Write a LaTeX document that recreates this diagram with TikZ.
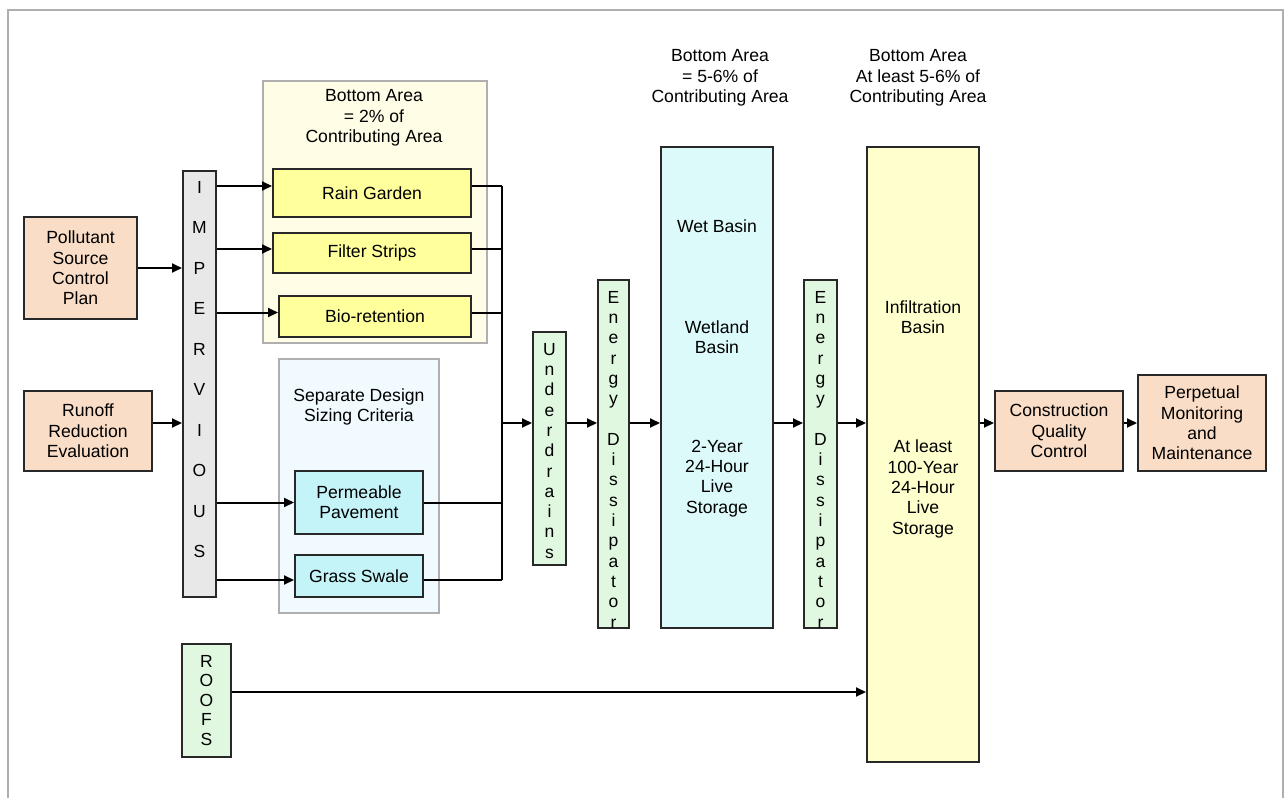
\documentclass[tikz,border=0pt]{standalone}
\usepackage{fontspec}
\setmainfont{Liberation Sans}
\usepackage{tikz}
\usetikzlibrary{arrows.meta,positioning}
\definecolor{peach}{RGB}{250,221,198}
\definecolor{impgray}{RGB}{232,232,232}
\definecolor{mint}{RGB}{224,247,224}
\definecolor{bmpyellow}{RGB}{255,255,156}
\definecolor{cream}{RGB}{255,253,230}
\definecolor{paleblue}{RGB}{240,250,255}
\definecolor{bmpcyan}{RGB}{196,243,248}
\definecolor{wetcyan}{RGB}{220,250,250}
\definecolor{infyellow}{RGB}{255,255,206}
\definecolor{boxline}{RGB}{40,40,40}
\definecolor{grpline}{RGB}{175,175,175}
\tikzstyle{box} = [draw=boxline, line width=2pt, inner sep=0pt, align=center]
\tikzstyle{grp} = [draw=grpline, line width=1.4pt, inner sep=0pt]
\tikzstyle{title} = [align=center, inner sep=0pt]
\tikzstyle{vtext} = [align=center, inner sep=0pt, anchor=north]
\tikzstyle{flowline} = [line width=2pt, color=black]
\tikzstyle{flowarrow} = [line width=2pt, color=black, -{Triangle[length=10pt,width=9pt]}]

\begin{document}
\begin{tikzpicture}[x=1pt, y=-1pt, every node/.style={font=\fontsize{17.6}{20.3}\selectfont}]
\useasboundingbox (0,0) rectangle (1285,798);
% outer frame, open at the bottom
\draw[grpline, line width=1.5pt] (8,798) -- (8,10) -- (1283,10) -- (1283,798);

% group backgrounds
\node[grp, fill=cream, minimum width=224pt, minimum height=262pt] (ygrp) at (375,212) {};
\node[title] (ytitle) at (374,118) {Bottom Area\\= 2\% of\\Contributing Area};
\node[grp, fill=paleblue, minimum width=160pt, minimum height=254pt] (bgrp) at (359,486) {};
\node[title] (btitle) at (359,407) {Separate Design\\Sizing Criteria};

% sources
\node[box, fill=peach, minimum width=113pt, minimum height=102pt] (poll) at (80.5,268) {Pollutant\\Source\\Control\\Plan};
\node[box, fill=peach, minimum width=128pt, minimum height=80pt] (run) at (88,431) {Runoff\\Reduction\\Evaluation};
\node[box, fill=impgray, minimum width=33pt, minimum height=426pt] (imp) at (199.5,384) {};
\node[vtext, font=\fontsize{17.5}{40.5}\selectfont] (imptxt) at ([yshift=-11pt]imp.north) {I\\M\\P\\E\\R\\V\\I\\O\\U\\S};
\node[box, fill=mint, minimum width=49pt, minimum height=113pt] (roofs) at (206.5,700.5) {};
\node[vtext, font=\fontsize{17.5}{19.5}\selectfont] (rooftxt) at ([yshift=-12pt]roofs.north) {R\\O\\O\\F\\S};

% BMPs
\node[box, fill=bmpyellow, minimum width=198pt, minimum height=48pt] (rg) at (372,193) {Rain Garden};
\node[box, fill=bmpyellow, minimum width=198pt, minimum height=40pt] (fs) at (372,253) {Filter Strips};
\node[box, fill=bmpyellow, minimum width=192pt, minimum height=41pt] (br) at (375,316.5) {Bio-retention};
\node[box, fill=bmpcyan, minimum width=128pt, minimum height=63pt] (pp) at (359,502.5) {Permeable\\Pavement};
\node[box, fill=bmpcyan, minimum width=128pt, minimum height=42pt] (gs) at (359,576) {Grass Swale};

% main train
\node[box, fill=mint, minimum width=33pt, minimum height=233pt] (ud) at (549.5,448.5) {};
\node[vtext, font=\fontsize{17.5}{20.3}\selectfont] (udtxt) at ([yshift=-12pt]ud.north) {U\\n\\d\\e\\r\\d\\r\\a\\i\\n\\s};
\node[box, fill=mint, minimum width=31pt, minimum height=348pt] (ed1) at (613.5,454) {};
\node[box, fill=wetcyan, minimum width=112pt, minimum height=481pt] (wb) at (717,387.5) {};
\node[box, fill=mint, minimum width=33pt, minimum height=348pt] (ed2) at (820.5,454) {};
\node[box, fill=infyellow, minimum width=112pt, minimum height=615pt] (ib) at (923,454.5) {};
\node[box, fill=peach, minimum width=128pt, minimum height=80pt] (cq) at (1059,431) {Construction\\Quality\\Control};
\node[box, fill=peach, minimum width=128pt, minimum height=96pt] (pm) at (1202,423) {Perpetual\\Monitoring\\and\\Maintenance};

% dissipator letters, cut off at the box bottom
\foreach \d in {ed1,ed2} {
  \begin{scope}
    \clip (\d.south west) rectangle (\d.north east);
    \node[vtext, font=\fontsize{17.5}{20.3}\selectfont] (\d txt) at ([yshift=-12pt]\d.north) {E\\n\\e\\r\\g\\y\\[20.3pt]D\\i\\s\\s\\i\\p\\a\\t\\o\\r};
  \end{scope}
}

% basin texts
\node[title] (wb1) at (717,226) {Wet Basin};
\node[title] (wb2) at (717,337) {Wetland\\Basin};
\node[title] (wb3) at (717,478.5) {2-Year\\24-Hour\\Live\\Storage};
\node[title] (wbtitle) at (720,78) {Bottom Area\\= 5-6\% of\\Contributing Area};
\node[title] (ib1) at (923,317) {Infiltration\\Basin};
\node[title] (ib2) at (923,489) {At least\\100-Year\\24-Hour\\Live\\Storage};
\node[title] (ibtitle) at (918,78) {Bottom Area\\At least 5-6\% of\\Contributing Area};

% connectors
\coordinate (jn) at (502,423);
\coordinate (rgp) at ([yshift=7pt]rg.center);
\coordinate (fsp) at ([yshift=4pt]fs.center);
\coordinate (brp) at ([yshift=4pt]br.center);
\coordinate (ppp) at (pp.center);
\coordinate (gsp) at ([yshift=-4pt]gs.center);
\draw[flowarrow] (poll.east) -- (poll.east -| imp.west);
\draw[flowarrow] (run.east |- jn) -- (imp.west |- jn);
\foreach \b in {rg,fs,br,pp,gs} {
  \draw[flowarrow] (\b p -| imp.east) -- (\b p -| \b.west);
  \draw[flowline] (\b p -| \b.east) -- (\b p -| jn);
}
\draw[flowline] (rgp -| jn) -- (gsp -| jn);
\draw[flowarrow] (jn) -- (jn -| ud.west);
\foreach \a/\b in {ud/ed1, ed1/wb, wb/ed2, ed2/ib, ib/cq, cq/pm}
  \draw[flowarrow] (\a.east |- jn) -- (\b.west |- jn);
\coordinate (roofp) at ([yshift=8.5pt]roofs.east);
\draw[flowarrow] (roofp) -- (roofp -| ib.west);
\end{tikzpicture}
\end{document}
